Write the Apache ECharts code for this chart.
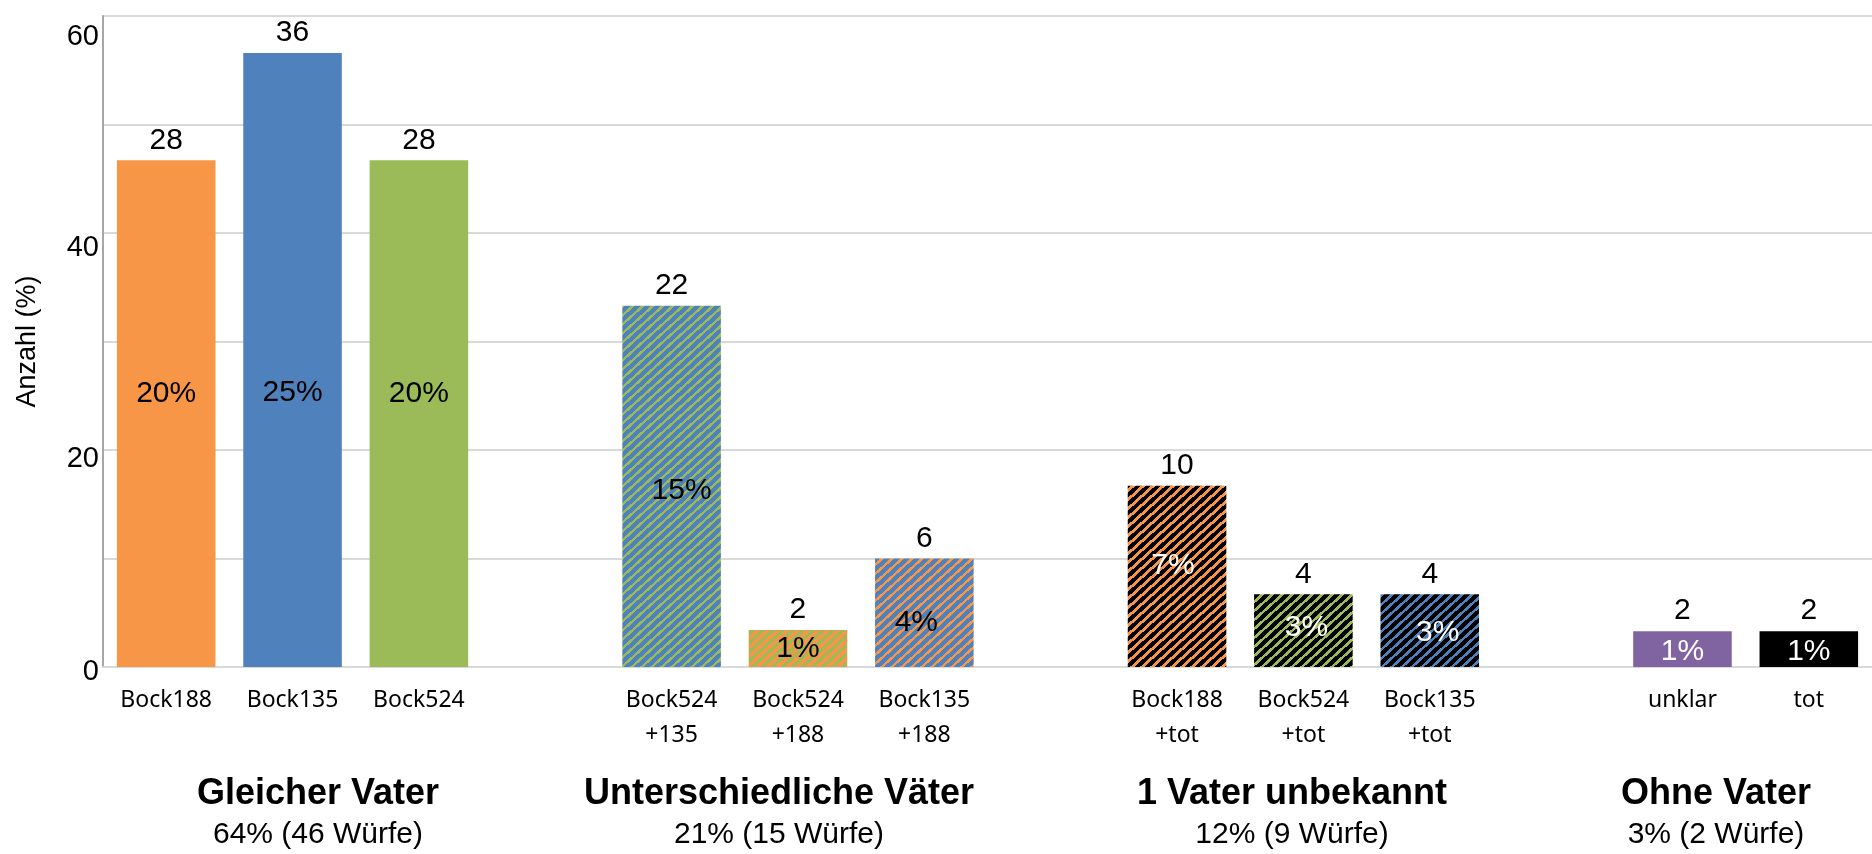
<!DOCTYPE html>
<html>
<head>
<meta charset="utf-8">
<script src="https://cdn.jsdelivr.net/npm/echarts@6/dist/echarts.min.js"></script>
<style>
  html, body { margin: 0; padding: 0; background: #fff; }
  #chart { width: 1872px; height: 854px; }
</style>
</head>
<body>
<div id="chart"></div>
<script>
// groups along the x axis (a blank slot sits between two groups)
const groupTitles = ['Gleicher Vater', 'Unterschiedliche Väter', '1 Vater unbekannt', 'Ohne Vater'];
const groupSubtitles = ['64% (46 Würfe)', '21% (15 Würfe)', '12% (9 Würfe)', '3% (2 Würfe)'];
const groupSizes = [3, 3, 3, 2];

const categories = [
  'Bock188', 'Bock135', 'Bock524',
  'Bock524\n+135', 'Bock524\n+188', 'Bock135\n+188',
  'Bock188\n+tot', 'Bock524\n+tot', 'Bock135\n+tot',
  'unklar', 'tot'
];
const barHeights = [46.7, 56.6, 46.7, 33.3, 3.4, 10, 16.7, 6.7, 6.7, 3.3, 3.3];
const litterCounts = [28, 36, 28, 22, 2, 6, 10, 4, 4, 2, 2];
const shareLabels = ['20%', '25%', '20%', '15%', '1%', '4%', '7%', '3%', '3%', '1%', '1%'];
const yTicks = [0, 20, 40, 60];

const ORANGE = '#F79646', BLUE = '#4F81BD', GREEN = '#9BBB59', PURPLE = '#8064A2', BLACK = '#000000';
const SANS = '"Liberation Sans", Arial, sans-serif';

// diagonal "/" hatch tile
function stripes(bg, fg, frac) {
  const W = 10, H = 9;
  const c = document.createElement('canvas');
  c.width = W; c.height = H;
  const ctx = c.getContext('2d');
  ctx.fillStyle = bg;
  ctx.fillRect(0, 0, W, H);
  ctx.fillStyle = fg;
  for (let y = 0; y < H; y++) {
    for (let x = 0; x < W; x++) {
      const p = (x / W + y / H) % 1;
      if (p < frac) ctx.fillRect(x, y, 1, 1);
    }
  }
  return { image: c, repeat: 'repeat' };
}

const fills = [
  ORANGE, BLUE, GREEN,
  stripes(BLUE, GREEN, 0.36), stripes(ORANGE, GREEN, 0.45), stripes(BLUE, ORANGE, 0.36),
  stripes(BLACK, ORANGE, 0.42), stripes(BLACK, GREEN, 0.38), stripes(BLACK, BLUE, 0.38),
  PURPLE, BLACK
];
const shareColors = ['#000', '#000', '#000', '#000', '#000', '#000', '#fff', '#fff', '#fff', '#fff', '#fff'];
// hand-placed label nudges, as in the original
const shareOffsets = [[0, -20], [0, 33], [0, -20], [10, 4], [0, 0], [-8, 10], [-4, -11], [3, -3], [8, 2], [0, 3], [0, 3]];
// the y tick labels sit a little below their grid lines in the original
const yLabelDrop = { 0: 5, 20: 9, 40: 15, 60: 21 };

// build the slot list with gaps
const slots = [], visible = [], tops = [];
let k = 0, gap = 0;
groupSizes.forEach((n, g) => {
  if (g > 0) {
    gap++;
    slots.push(' '.repeat(gap));
    visible.push('-');
    tops.push('-');
  }
  for (let i = 0; i < n; i++, k++) {
    slots.push(categories[k]);
    visible.push({
      value: barHeights[k],
      itemStyle: { color: fills[k] },
      label: { formatter: shareLabels[k], color: shareColors[k], offset: shareOffsets[k] }
    });
    tops.push({ value: barHeights[k], label: { formatter: String(litterCounts[k]) } });
  }
});

const yRich = {};
yTicks.forEach(v => {
  yRich['t' + v] = { fontFamily: SANS, fontSize: 29, color: '#000', padding: [yLabelDrop[v] * 2, 0, 0, 0] };
});

const titleX = [318, 779, 1292, 1716];
const graphics = [];
groupTitles.forEach((t, i) => {
  graphics.push({
    type: 'text', x: titleX[i], y: 794,
    style: { text: t, font: 'bold 36px ' + SANS, fill: '#000', align: 'center', verticalAlign: 'middle' }
  });
  graphics.push({
    type: 'text', x: titleX[i], y: 835,
    style: { text: groupSubtitles[i], font: '30px ' + SANS, fill: '#000', align: 'center', verticalAlign: 'middle' }
  });
});

const chart = echarts.init(document.getElementById('chart'), null, { renderer: 'canvas' });
chart.setOption({
  animation: false,
  backgroundColor: '#fff',
  grid: { left: 103, right: 0, top: 16, bottom: 187, outerBoundsMode: 'none' },
  xAxis: {
    type: 'category',
    data: slots,
    axisLine: { show: true, lineStyle: { color: '#D9D9D9', width: 2 } },
    axisTick: { show: false },
    axisLabel: {
      interval: 0,
      margin: 16,
      color: '#000',
      fontFamily: '"Noto Sans", "Open Sans", sans-serif',
      fontSize: 23,
      lineHeight: 35,
      verticalAlign: 'top'
    }
  },
  yAxis: {
    type: 'value',
    min: 0,
    max: 60,
    interval: 10,
    name: 'Anzahl (%)',
    nameLocation: 'middle',
    nameGap: 62,
    nameTextStyle: { fontFamily: SANS, fontSize: 27, color: '#000' },
    axisLine: { show: true, lineStyle: { color: '#A6A6A6', width: 2 } },
    axisTick: { show: false },
    splitLine: { lineStyle: { color: '#D9D9D9', width: 2 } },
    axisLabel: {
      margin: 4,
      color: '#000',
      fontFamily: SANS,
      fontSize: 29,
      formatter: v => (yTicks.includes(v) ? '{t' + v + '|' + v + '}' : ''),
      rich: yRich
    }
  },
  series: [
    {
      type: 'bar',
      data: visible,
      barWidth: '78%',
      label: {
        show: true,
        position: 'inside',
        fontFamily: SANS,
        fontSize: 30
      }
    },
    {
      type: 'bar',
      data: tops,
      barWidth: '78%',
      barGap: '-100%',
      itemStyle: { color: 'rgba(0,0,0,0)' },
      label: {
        show: true,
        position: 'top',
        distance: 5,
        color: '#000',
        fontFamily: SANS,
        fontSize: 30
      }
    }
  ],
  graphic: graphics
});
</script>
</body>
</html>
